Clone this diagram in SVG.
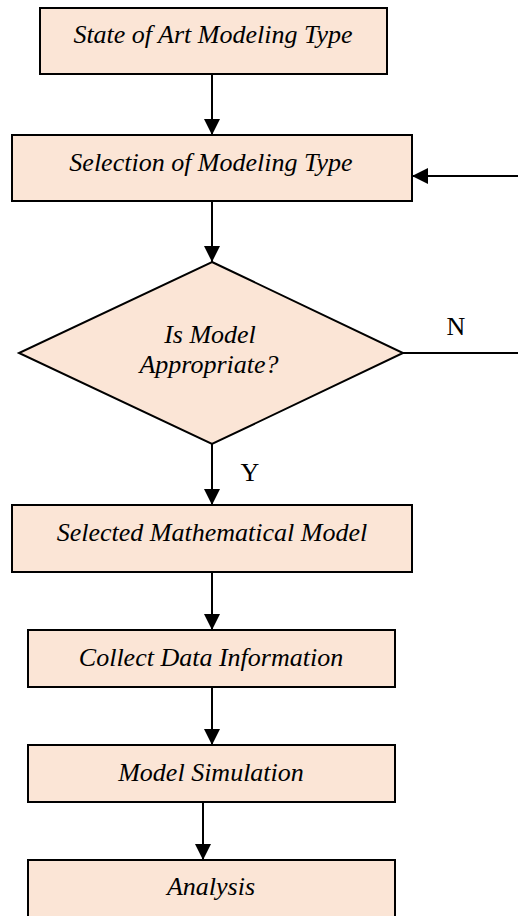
<svg xmlns="http://www.w3.org/2000/svg" width="518" height="916" viewBox="0 0 518 916">
<style>
.box{fill:#FBE5D6;stroke:#000;stroke-width:2}
.lbl{font-family:"Liberation Serif","Times New Roman",serif;font-style:italic;font-size:26px;fill:#000;text-anchor:middle}
.yn{font-family:"Liberation Serif","Times New Roman",serif;font-size:26px;fill:#000;text-anchor:middle}
.con{stroke:#000;stroke-width:2;fill:none}
</style>
<defs>
<marker id="ah" markerUnits="userSpaceOnUse" markerWidth="16" markerHeight="16" refX="16" refY="8" orient="auto">
<path d="M0,0 L16,8 L0,16 z" fill="#000"/>
</marker>
</defs>
<rect width="518" height="916" fill="#fff"/>
<g id="connectors">
<line class="con" x1="212" y1="74" x2="212" y2="135" marker-end="url(#ah)"/>
<line class="con" x1="212" y1="201" x2="212" y2="262" marker-end="url(#ah)"/>
<line class="con" x1="518" y1="176" x2="412" y2="176" marker-end="url(#ah)"/>
<line class="con" x1="403" y1="353" x2="518" y2="353"/>
<line class="con" x1="212" y1="444" x2="212" y2="505" marker-end="url(#ah)"/>
<line class="con" x1="212" y1="572" x2="212" y2="630" marker-end="url(#ah)"/>
<line class="con" x1="212" y1="687" x2="212" y2="745" marker-end="url(#ah)"/>
<line class="con" x1="203" y1="802" x2="203" y2="860" marker-end="url(#ah)"/>
<text class="yn" x="456" y="335">N</text>
<text class="yn" x="250" y="481">Y</text>
</g>
<g id="n1"><rect class="box" x="40" y="8" width="347" height="66"/><text class="lbl" x="213" y="43">State of Art Modeling Type</text></g>
<g id="n2"><rect class="box" x="12" y="135" width="400" height="66"/><text class="lbl" x="211" y="171">Selection of Modeling Type</text></g>
<g id="n3"><polygon class="box" points="212,262 403,353 212,444 19,353"/><text class="lbl" x="210" y="343">Is Model</text><text class="lbl" x="209" y="373">Appropriate?</text></g>
<g id="n4"><rect class="box" x="12" y="505" width="400" height="67"/><text class="lbl" x="212" y="541">Selected Mathematical Model</text></g>
<g id="n5"><rect class="box" x="28" y="630" width="367" height="57"/><text class="lbl" x="211" y="666">Collect Data Information</text></g>
<g id="n6"><rect class="box" x="28" y="745" width="367" height="57"/><text class="lbl" x="211" y="781">Model Simulation</text></g>
<g id="n7"><rect class="box" x="28" y="860" width="367" height="70"/><text class="lbl" x="211" y="895">Analysis</text></g>
</svg>
